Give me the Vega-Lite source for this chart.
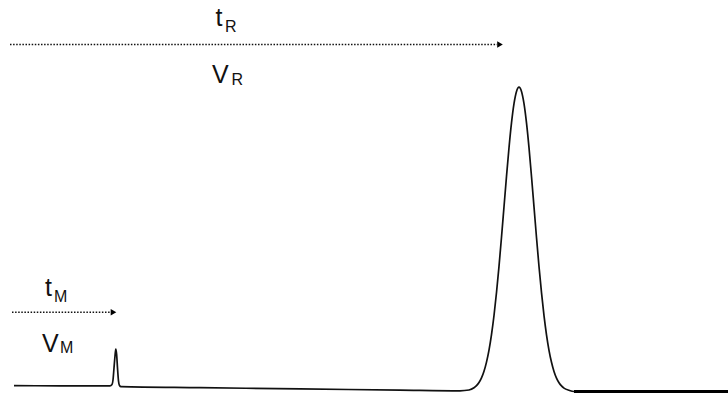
{
  "$schema": "https://vega.github.io/schema/vega-lite/v6.json",
  "width": 728,
  "height": 394,
  "padding": 0,
  "autosize": {"type": "none"},
  "background": "white",
  "config": {"view": {"stroke": null}},
  "datasets": {
    "signal": [
      {"t": 14, "s": 8.3}, {"t": 60, "s": 8.2}, {"t": 100, "s": 8.2}, {"t": 110, "s": 8.2},
      {"t": 112, "s": 9.5}, {"t": 113, "s": 14}, {"t": 114, "s": 26}, {"t": 115, "s": 38},
      {"t": 115.8, "s": 45}, {"t": 116.6, "s": 40}, {"t": 117.5, "s": 26}, {"t": 118.5, "s": 13},
      {"t": 119.5, "s": 8.5}, {"t": 121, "s": 7.3}, {"t": 200, "s": 6.3}, {"t": 300, "s": 5.1},
      {"t": 400, "s": 3.9}, {"t": 460, "s": 3.2}, {"t": 469, "s": 4.0}, {"t": 474, "s": 6.2},
      {"t": 476.5, "s": 8.3}, {"t": 479, "s": 11.5}, {"t": 481.5, "s": 16.1}, {"t": 484, "s": 22.8},
      {"t": 486.5, "s": 31.9}, {"t": 489, "s": 43.9}, {"t": 491.5, "s": 59.4}, {"t": 494, "s": 78.5},
      {"t": 496.5, "s": 101.5}, {"t": 499, "s": 127.7}, {"t": 501.5, "s": 156.7}, {"t": 504, "s": 187.2},
      {"t": 506.5, "s": 217.6}, {"t": 509, "s": 246.3}, {"t": 511.5, "s": 271.1}, {"t": 514, "s": 290.4},
      {"t": 516.5, "s": 302.6}, {"t": 519, "s": 306.8}, {"t": 521.5, "s": 302.6}, {"t": 524, "s": 290.4},
      {"t": 526.5, "s": 271.1}, {"t": 529, "s": 246.3}, {"t": 531.5, "s": 217.5}, {"t": 534, "s": 187.1},
      {"t": 536.5, "s": 156.5}, {"t": 539, "s": 127.5}, {"t": 541.5, "s": 101.3}, {"t": 544, "s": 78.3},
      {"t": 546.5, "s": 59.2}, {"t": 549, "s": 43.7}, {"t": 551.5, "s": 31.7}, {"t": 554, "s": 22.6},
      {"t": 556.5, "s": 15.9}, {"t": 559, "s": 11.3}, {"t": 561.5, "s": 8.1}, {"t": 564, "s": 5.9},
      {"t": 569, "s": 3.7}, {"t": 574, "s": 2.5}, {"t": 728, "s": 2.5}
    ],
    "arrows": [
      {"name": "R", "start": 10, "end": 497, "s": 349.5, "tip": 500},
      {"name": "M", "start": 12, "end": 111, "s": 81.7, "tip": 113.5}
    ],
    "mainLabels": [
      {"t": 215.5, "s": 368.3, "label": "t"},
      {"t": 212, "s": 310.7, "label": "V"},
      {"t": 45, "s": 98.3, "label": "t"},
      {"t": 42, "s": 41.7, "label": "V"}
    ],
    "subLabels": [
      {"t": 225, "s": 361.7, "label": "R"},
      {"t": 231.5, "s": 309.5, "label": "R"},
      {"t": 54, "s": 92.3, "label": "M"},
      {"t": 60, "s": 41.2, "label": "M"}
    ]
  },
  "encoding": {
    "x": {"type": "quantitative", "scale": {"domain": [0, 728], "nice": false, "zero": false}, "axis": null},
    "y": {"type": "quantitative", "scale": {"domain": [0, 394], "nice": false, "zero": false}, "axis": null}
  },
  "layer": [
    {
      "data": {"name": "signal"},
      "mark": {"type": "line", "color": "#111111", "strokeWidth": 1.7, "interpolate": "monotone", "clip": false},
      "encoding": {"x": {"field": "t", "type": "quantitative"}, "y": {"field": "s", "type": "quantitative"}}
    },
    {
      "data": {"name": "signal"},
      "transform": [{"filter": "datum.t >= 574"}],
      "mark": {"type": "line", "color": "#000000", "strokeWidth": 2.8},
      "encoding": {"x": {"field": "t", "type": "quantitative"}, "y": {"field": "s", "type": "quantitative"}}
    },
    {
      "data": {"name": "arrows"},
      "mark": {"type": "rule", "color": "#111111", "strokeWidth": 1.4, "strokeDash": [1.5, 1.6]},
      "encoding": {
        "x": {"field": "start", "type": "quantitative"},
        "x2": {"field": "end"},
        "y": {"field": "s", "type": "quantitative"}
      }
    },
    {
      "data": {"name": "arrows"},
      "mark": {"type": "point", "shape": "triangle-right", "filled": true, "color": "#000000", "size": 42, "opacity": 1},
      "encoding": {
        "x": {"field": "tip", "type": "quantitative"},
        "y": {"field": "s", "type": "quantitative"}
      }
    },
    {
      "data": {"name": "mainLabels"},
      "mark": {"type": "text", "font": "Liberation Sans", "fontSize": 25, "align": "left", "baseline": "alphabetic", "color": "#111111"},
      "encoding": {
        "x": {"field": "t", "type": "quantitative"},
        "y": {"field": "s", "type": "quantitative"},
        "text": {"field": "label"}
      }
    },
    {
      "data": {"name": "subLabels"},
      "mark": {"type": "text", "font": "Liberation Sans", "fontSize": 16, "align": "left", "baseline": "alphabetic", "color": "#111111"},
      "encoding": {
        "x": {"field": "t", "type": "quantitative"},
        "y": {"field": "s", "type": "quantitative"},
        "text": {"field": "label"}
      }
    }
  ]
}
